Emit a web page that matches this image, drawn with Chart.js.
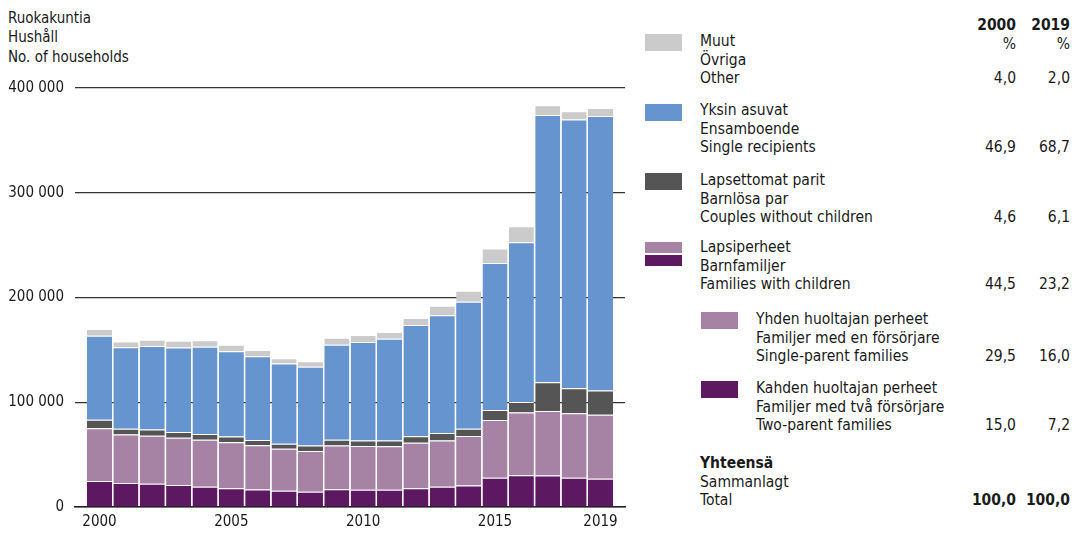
<!DOCTYPE html>
<html>
<head>
<meta charset="utf-8">
<script src="https://cdn.jsdelivr.net/npm/chart.js@4"></script>
<style>
  html, body { margin: 0; padding: 0; background: #fff; }
  body {
    width: 1084px; height: 538px; position: relative; overflow: hidden;
    font-family: "Liberation Sans Narrow", "DejaVu Sans Condensed", "Roboto Condensed", "Liberation Sans", sans-serif;
    font-stretch: condensed; color: #1a1a1a;
  }
  #chart-box { position: absolute; left: 0; top: 0; width: 640px; height: 538px; }
  .txt { position: absolute; font-size: 15.5px; line-height: 18.7px; white-space: nowrap; }
  .num { position: absolute; font-size: 15.5px; line-height: 18.7px; text-align: right; width: 60px; }
  .sw { position: absolute; width: 37px; }
  b { font-weight: bold; }
</style>
</head>
<body>
<div class="txt" style="left:8px; top:9px; font-size:15px; line-height:19.3px;">Ruokakuntia<br>Hushåll<br>No. of households</div>
<div id="chart-box"><canvas id="chart"></canvas></div>
<div id="legend"></div>

<script>
// Data
const years = [2000, 2001, 2002, 2003, 2004, 2005, 2006, 2007, 2008, 2009,
               2010, 2011, 2012, 2013, 2014, 2015, 2016, 2017, 2018, 2019];
const twoParent = [24800, 22800, 22200, 20900, 19300, 18000, 16700, 15500, 14500, 17000,
                   16500, 16500, 18000, 19300, 20600, 27900, 30400, 30100, 27900, 27000];
const singleParent = [50400, 46300, 45900, 45300, 45000, 43700, 42200, 40200, 38900, 41600,
                      41700, 41400, 43400, 44300, 47200, 55200, 59700, 61600, 61600, 61000];
const couples = [8200, 5700, 5800, 5400, 5400, 5500, 5000, 4800, 5200, 5700,
                 5400, 5700, 6100, 7000, 7000, 9500, 10200, 27400, 23900, 23300];
const singles = [80000, 77800, 79700, 80700, 83200, 81600, 80100, 76500, 75200, 90500,
                 93800, 97000, 106200, 112400, 121200, 140400, 152500, 255200, 256500, 262000];
const other = [6600, 5500, 6000, 6400, 6400, 6000, 5800, 5100, 5400, 6700,
               6700, 6400, 6700, 9200, 10500, 13700, 15300, 9200, 7900, 7600];
const xTicks = [2000, 2005, 2010, 2015, 2019];
const yTicks = [0, 100000, 200000, 300000, 400000];

// Legend table
const legendRows = [
  { fi: "Muut", sv: "Övriga", en: "Other", p2000: 4.0, p2019: 2.0 },
  { fi: "Yksin asuvat", sv: "Ensamboende", en: "Single recipients", p2000: 46.9, p2019: 68.7 },
  { fi: "Lapsettomat parit", sv: "Barnlösa par", en: "Couples without children", p2000: 4.6, p2019: 6.1 },
  { fi: "Lapsiperheet", sv: "Barnfamiljer", en: "Families with children", p2000: 44.5, p2019: 23.2 },
  { fi: "Yhden huoltajan perheet", sv: "Familjer med en försörjare", en: "Single-parent families", p2000: 29.5, p2019: 16.0 },
  { fi: "Kahden huoltajan perheet", sv: "Familjer med två försörjare", en: "Two-parent families", p2000: 15.0, p2019: 7.2 },
  { fi: "Yhteensä", sv: "Sammanlagt", en: "Total", p2000: 100.0, p2019: 100.0 }
];

const colors = {
  other: "#cbcbcb",
  singles: "#6594cf",
  couples: "#555555",
  singleParent: "#a683a4",
  twoParent: "#5d1862"
};

function fmtThousands(v) {
  return String(v).replace(/\B(?=(\d{3})+(?!\d))/g, " ");
}
function fmtPct(v) {
  return v.toFixed(1).replace(".", ",");
}

// Build legend
const legend = document.getElementById("legend");
const rowTops = [32, 101, 171, 238, 310, 379, 454];
const rowLeft = [700, 700, 700, 700, 756, 756, 700];
const swatches = [
  [{ c: colors.other, x: 645, y: 34, h: 17 }],
  [{ c: colors.singles, x: 645, y: 104, h: 17 }],
  [{ c: colors.couples, x: 645, y: 173, h: 17 }],
  [{ c: colors.singleParent, x: 645, y: 242, h: 11 }, { c: colors.twoParent, x: 645, y: 255, h: 11 }],
  [{ c: colors.singleParent, x: 701, y: 312, h: 17 }],
  [{ c: colors.twoParent, x: 701, y: 381, h: 17 }],
  []
];
let html = "";
html += `<div class="num" style="left:956px; top:16px;"><b>2000</b><br>%</div>`;
html += `<div class="num" style="left:1010px; top:16px;"><b>2019</b><br>%</div>`;
legendRows.forEach((r, i) => {
  const isTotal = i === legendRows.length - 1;
  const fi = isTotal ? `<b>${r.fi}</b>` : r.fi;
  html += `<div class="txt" style="left:${rowLeft[i]}px; top:${rowTops[i]}px;">${fi}<br>${r.sv}<br>${r.en}</div>`;
  const a = isTotal ? `<b>${fmtPct(r.p2000)}</b>` : fmtPct(r.p2000);
  const b = isTotal ? `<b>${fmtPct(r.p2019)}</b>` : fmtPct(r.p2019);
  const top = rowTops[i] + 2 * 18.7;
  html += `<div class="num" style="left:956px; top:${top}px;">${a}</div>`;
  html += `<div class="num" style="left:1010px; top:${top}px;">${b}</div>`;
  swatches[i].forEach(s => {
    html += `<div class="sw" style="left:${s.x}px; top:${s.y}px; height:${s.h}px; background:${s.c};"></div>`;
  });
});
legend.innerHTML = html;

// Chart
const tickFont = { family: "'Liberation Sans Narrow', 'DejaVu Sans Condensed', 'Liberation Sans', sans-serif", size: 15 };

function makeSet(label, data, color) {
  return {
    label: label,
    data: data,
    backgroundColor: color,
    borderColor: "#ffffff",
    borderWidth: { top: 1, right: 0, bottom: 0, left: 0 },
    borderSkipped: false,
    barPercentage: 0.95,
    categoryPercentage: 1.0,
    stack: "all"
  };
}

new Chart(document.getElementById("chart"), {
  type: "bar",
  data: {
    labels: years,
    datasets: [
      makeSet("Two-parent families", twoParent, colors.twoParent),
      makeSet("Single-parent families", singleParent, colors.singleParent),
      makeSet("Couples without children", couples, colors.couples),
      makeSet("Single recipients", singles, colors.singles),
      makeSet("Other", other, colors.other)
    ]
  },
  options: {
    responsive: true,
    maintainAspectRatio: false,
    animation: false,
    layout: { padding: { top: 88, right: 15, bottom: 0, left: 0 } },
    plugins: { legend: { display: false }, tooltip: { enabled: false } },
    scales: {
      x: {
        type: "linear",
        stacked: true,
        offset: false,
        min: 1999.07,
        max: 2019.93,
        afterBuildTicks: (scale) => { scale.ticks = xTicks.map(v => ({ value: v })); },
        afterFit: (scale) => { scale.height = 31; },
        grid: { display: false, drawTicks: false, offset: false },
        border: { display: true, color: "#222", width: 1.6 },
        ticks: { color: "#1a1a1a", font: tickFont, padding: 6, maxRotation: 0, callback: v => String(v) }
      },
      y: {
        stacked: true,
        min: 0,
        max: 400000,
        afterBuildTicks: (scale) => { scale.ticks = yTicks.map(v => ({ value: v })); },
        afterFit: (scale) => { scale.width = 75; },
        grid: { color: "#333", lineWidth: 1.2, drawTicks: false },
        border: { display: false },
        ticks: { color: "#1a1a1a", font: tickFont, padding: 11, callback: v => fmtThousands(v) }
      }
    }
  }
});
</script>
</body>
</html>
